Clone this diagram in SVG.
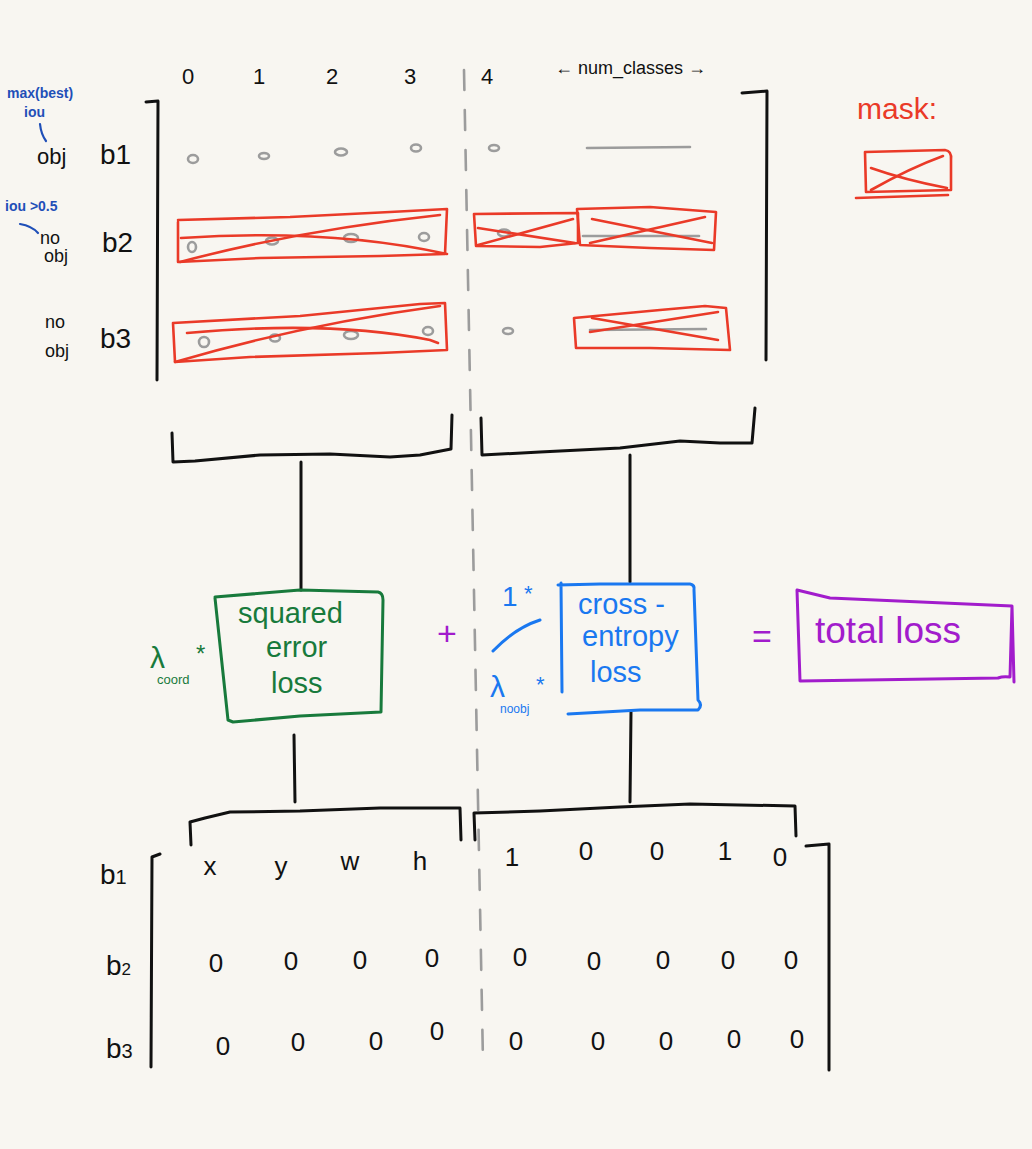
<svg xmlns="http://www.w3.org/2000/svg" width="1032" height="1149" viewBox="0 0 1032 1149">
<style>
.ink{fill:none;stroke:#111;stroke-width:3;stroke-linecap:round;stroke-linejoin:round}
.gray{fill:none;stroke:#9c9c9c;stroke-width:2.6;stroke-linecap:round}
.red{fill:none;stroke:#ea3a28;stroke-width:2.6;stroke-linecap:round;stroke-linejoin:round}
.grn{fill:none;stroke:#187a3c;stroke-width:3;stroke-linecap:round;stroke-linejoin:round}
.blu{fill:none;stroke:#1a78f0;stroke-width:3;stroke-linecap:round;stroke-linejoin:round}
.pur{fill:none;stroke:#a21ccc;stroke-width:3;stroke-linecap:round;stroke-linejoin:round}
text{font-family:"Liberation Sans","DejaVu Sans",sans-serif}
.t{fill:#111;font-size:22px}
.tb{fill:#111;font-size:28px}
.note{fill:#1f4fb8;font-size:14px;font-weight:bold}
.g{fill:#187a3c;font-size:29px}
.b{fill:#1a78f0;font-size:29px}
.p{fill:#a21ccc;font-size:34px}
.r{fill:#ea3a28;font-size:30px}
.z{fill:#111;font-size:26px;text-anchor:middle}
</style>
<rect width="1032" height="1149" fill="#f8f6f1"/>

<!-- dashed separator -->
<g id="separator">
<path class="gray" d="M464 70 L483 1062" stroke-dasharray="20 20"/>
</g>

<!-- top matrix -->
<g id="top-matrix">
<path class="ink" d="M146 102 L158 101 L157 380"/>
<path class="ink" d="M742 93 L767 91 L766 360"/>
<text class="t" x="182" y="84">0</text>
<text class="t" x="253" y="84">1</text>
<text class="t" x="326" y="84">2</text>
<text class="t" x="404" y="84">3</text>
<text class="t" x="481" y="84">4</text>
<text x="555" y="74" style="font-size:18px;fill:#111">← num_classes →</text>
<!-- row b1 -->
<text class="note" x="7" y="98">max(best)</text>
<text class="note" x="24" y="117">iou</text>
<path d="M40 124 Q41 134 46 141" fill="none" stroke="#1f4fb8" stroke-width="2.2" stroke-linecap="round"/>
<text class="t" x="37" y="164">obj</text>
<text class="tb" x="100" y="164">b1</text>
<ellipse class="gray" cx="193" cy="159" rx="5" ry="4"/>
<ellipse class="gray" cx="264" cy="156" rx="5" ry="3"/>
<ellipse class="gray" cx="341" cy="152" rx="6" ry="3.5"/>
<ellipse class="gray" cx="416" cy="148" rx="5" ry="3.5"/>
<ellipse class="gray" cx="494" cy="148" rx="5" ry="3"/>
<path class="gray" d="M587 148 L690 147"/>
<!-- row b2 -->
<text class="note" x="5" y="211">iou &gt;0.5</text>
<path d="M20 224 Q32 226 38 233" fill="none" stroke="#1f4fb8" stroke-width="2.2" stroke-linecap="round"/>
<text class="t" x="40" y="244" style="font-size:18px">no</text>
<text class="t" x="44" y="262" style="font-size:18px">obj</text>
<text class="tb" x="102" y="252">b2</text>
<ellipse class="gray" cx="192" cy="247" rx="4" ry="5"/>
<ellipse class="gray" cx="272" cy="241" rx="6" ry="3.5"/>
<ellipse class="gray" cx="351" cy="238" rx="7" ry="4"/>
<ellipse class="gray" cx="424" cy="237" rx="5" ry="4"/>
<ellipse class="gray" cx="504" cy="233" rx="6" ry="3.5"/>
<path class="gray" d="M583 236 L699 236"/>
<!-- row b3 -->
<text class="t" x="45" y="328" style="font-size:18px">no</text>
<text class="t" x="45" y="357" style="font-size:18px">obj</text>
<text class="tb" x="100" y="348">b3</text>
<ellipse class="gray" cx="204" cy="342" rx="5" ry="5"/>
<ellipse class="gray" cx="275" cy="338" rx="5" ry="3.5"/>
<ellipse class="gray" cx="351" cy="335" rx="7" ry="4"/>
<ellipse class="gray" cx="428" cy="331" rx="5" ry="4"/>
<ellipse class="gray" cx="508" cy="331" rx="5" ry="3"/>
<path class="gray" d="M590 330 L706 329"/>
</g>

<!-- masks -->
<g id="masks">
<path class="red" d="M178 220 L290 217 L390 212 L447 209 L445 254 L380 256 L260 258 L178 262 L178 222"/>
<path class="red" d="M181 238 Q330 228 447 254"/>
<path class="red" d="M180 262 Q300 230 440 215"/>
<path class="red" d="M474 214 L578 213 L578 243 L540 247 L476 246 Z"/>
<path class="red" d="M478 228 L575 243"/>
<path class="red" d="M478 245 L573 219"/>
<path class="red" d="M577 209 L650 207 L716 212 L714 250 L650 248 L580 245 Z"/>
<path class="red" d="M592 219 L712 243"/>
<path class="red" d="M590 243 L705 217"/>
<path class="red" d="M173 323 L300 316 L420 304 L445 303 L447 350 L380 353 L250 357 L175 362 Z"/>
<path class="red" d="M187 333 Q330 320 430 340 L438 343"/>
<path class="red" d="M175 362 Q300 325 440 306"/>
<path class="red" d="M574 318 L660 310 L705 306 L726 308 L730 350 L650 348 L576 348 Z"/>
<path class="red" d="M592 318 L718 340"/>
<path class="red" d="M590 332 L718 312"/>
</g>

<!-- mask legend -->
<g id="mask-legend">
<text class="r" x="857" y="119">mask:</text>
<path class="red" d="M865 152 L945 150 Q952 151 951 160 L951 190 L866 192 Z"/>
<path class="red" d="M871 168 Q905 180 947 188"/>
<path class="red" d="M871 190 Q910 168 943 156"/>
<path class="red" d="M856 198 L948 195"/>
</g>

<!-- lower brackets of top matrix -->
<g id="top-brackets">
<path class="ink" d="M172 433 L173 462 L195 461 L260 455 L330 454 L390 457 L420 455 L451 449 L452 415"/>
<path class="ink" d="M481 418 L482 455 L540 452 L620 448 L680 441 L720 443 L752 443 L755 408"/>
</g>

<!-- connectors -->
<g id="connectors">
<path class="ink" d="M301 462 L301 590"/>
<path class="ink" d="M630 455 L630 582"/>
<path class="ink" d="M294 735 L295 802"/>
<path class="ink" d="M631 712 L630 802"/>
</g>

<!-- squared error loss -->
<g id="squared-error-loss">
<path class="grn" d="M215 597 L300 590 L378 592 Q383 593 383 600 L381 712 L300 716 L233 722 L228 720 L215 598"/>
<text class="g" x="238" y="623">squared</text>
<text class="g" x="266" y="657">error</text>
<text class="g" x="271" y="693">loss</text>
<text class="g" x="150" y="668" style="font-size:30px">λ</text>
<text class="g" x="157" y="684" style="font-size:13px">coord</text>
<text class="g" x="196" y="662" style="font-size:24px">*</text>
</g>

<!-- plus sign -->
<g id="plus">
<text class="p" x="437" y="645">+</text>
</g>

<!-- noobj weight -->
<g id="weight">
<text class="b" x="502" y="606" style="font-size:28px">1</text>
<text class="b" x="524" y="601" style="font-size:22px">*</text>
<path class="blu" d="M493 651 Q515 628 540 620"/>
<text class="b" x="490" y="697" style="font-size:30px">λ</text>
<text class="b" x="500" y="713" style="font-size:12px">noobj</text>
<text class="b" x="536" y="692" style="font-size:22px">*</text>
</g>

<!-- cross-entropy loss -->
<g id="cross-entropy-loss">
<path class="blu" d="M558 585 L600 584 L690 584 Q695 585 694 590 L698 700 Q703 705 698 710 L640 710 L568 714 M561 583 L562 692"/>
<text class="b" x="578" y="614">cross -</text>
<text class="b" x="582" y="646">entropy</text>
<text class="b" x="590" y="682">loss</text>
</g>

<!-- equals -->
<g id="equals">
<text class="p" x="752" y="648">=</text>
</g>

<!-- total loss -->
<g id="total-loss">
<path class="pur" d="M797 590 L830 598 L1012 606 L1014 682 M1012 606 L1010 677 Q1003 676 998 678 L800 681 L797 590"/>
<text class="p" x="815" y="643" style="font-size:37px">total loss</text>
</g>

<!-- upper brackets of bottom matrix -->
<g id="bottom-brackets">
<path class="ink" d="M191 845 L190 822 L205 818 L230 812 L300 811 L380 808 L460 808 L461 840"/>
<path class="ink" d="M475 840 L474 813 L540 811 L620 807 L690 804 L795 806 L796 836"/>
</g>

<!-- bottom matrix -->
<g id="bottom-matrix">
<path class="ink" d="M160 854 L152 857 L151 1067"/>
<path class="ink" d="M806 846 L829 844 L829 1070"/>
<text class="tb" x="100" y="884">b<tspan style="font-size:20px">1</tspan></text>
<text class="tb" x="106" y="975">b<tspan style="font-size:17px">2</tspan></text>
<text class="tb" x="106" y="1058">b<tspan style="font-size:20px">3</tspan></text>
<text class="z" x="210" y="875">x</text>
<text class="z" x="281" y="875">y</text>
<text class="z" x="350" y="870">w</text>
<text class="z" x="420" y="870">h</text>
<text class="z" x="512" y="866">1</text>
<text class="z" x="586" y="860">0</text>
<text class="z" x="657" y="860">0</text>
<text class="z" x="725" y="860">1</text>
<text class="z" x="780" y="866">0</text>
<text class="z" x="216" y="972">0</text>
<text class="z" x="291" y="970">0</text>
<text class="z" x="360" y="969">0</text>
<text class="z" x="432" y="967">0</text>
<text class="z" x="520" y="966">0</text>
<text class="z" x="594" y="970">0</text>
<text class="z" x="663" y="969">0</text>
<text class="z" x="728" y="969">0</text>
<text class="z" x="791" y="969">0</text>
<text class="z" x="223" y="1055">0</text>
<text class="z" x="298" y="1051">0</text>
<text class="z" x="376" y="1050">0</text>
<text class="z" x="437" y="1040">0</text>
<text class="z" x="516" y="1050">0</text>
<text class="z" x="598" y="1050">0</text>
<text class="z" x="666" y="1050">0</text>
<text class="z" x="734" y="1048">0</text>
<text class="z" x="797" y="1048">0</text>
</g>
</svg>
